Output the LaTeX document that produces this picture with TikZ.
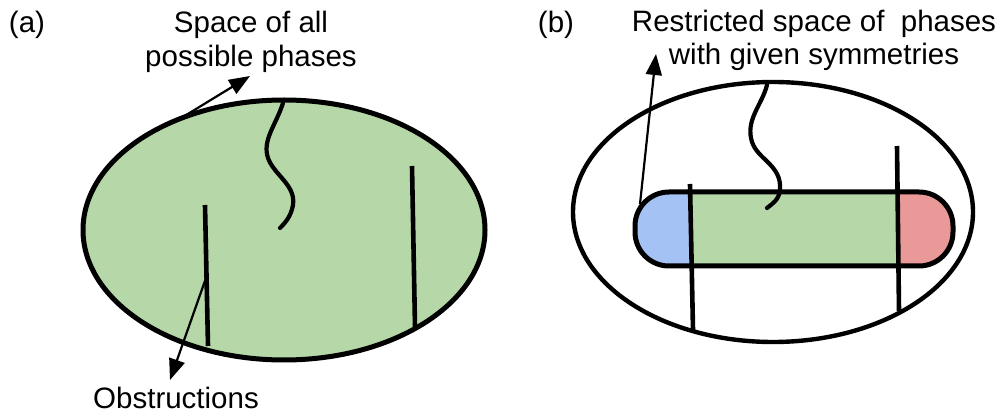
\documentclass[tikz,border=0pt]{standalone}
\usepackage{fontspec}
\setmainfont{Liberation Sans}
\usetikzlibrary{arrows.meta,shapes.geometric}
\definecolor{phasegreen}{HTML}{B6D7A8}
\definecolor{phaseblue}{HTML}{A4C2F4}
\definecolor{phasered}{HTML}{EA9999}

\begin{document}
\begin{tikzpicture}[x=1pt,y=-1pt,
  lbl/.style={font=\fontsize{29.5}{34}\selectfont, inner sep=0pt, anchor=base},
  bound/.style={draw, ellipse, inner sep=0pt, outer sep=0pt},
  obst/.style={line width=4.6pt},
  wig/.style={line width=4.2pt, line cap=round},
  pointer/.style={line width=2.2pt, -{Triangle[length=21pt,width=16pt]}}]
\useasboundingbox (0,0) rectangle (1001,419);

% ---------- (a) the full space of phases ----------
\node[bound, fill=phasegreen, line width=5pt, minimum width=402pt, minimum height=260pt]
  (spaceA) at (284,230) {};

\coordinate (oa1top) at (205,205);
\coordinate (oa1bot) at (208,346);
\coordinate (oa2top) at (412,166);
\coordinate (oa2bot) at (415,327);
\draw[obst] (oa1top) -- (oa1bot);
\draw[obst] (oa2top) -- (oa2bot);

\draw[wig] (283,103) .. controls (276,125) and (262,140) .. (268,158)
  .. controls (274,175) and (296,185) .. (293,205)
  .. controls (291,217) and (284,224) .. (280,228);

\node[lbl] (labA) at (27,33) {(a)};
\node[lbl] (spaceTxt1) at (251,33) {Space of all};
\node[lbl] (spaceTxt2) at (251,67) {possible phases};
\node[lbl] (obsTxt) at (176,408) {Obstructions};

\coordinate (tipA) at (250,76);
\draw[pointer] (spaceA.133) -- (tipA);
\coordinate (obsMark) at (206,278);
\coordinate (tipObs) at (170,380);
\draw[pointer] (obsMark) -- (tipObs);

% ---------- (b) the space restricted by symmetry ----------
\node[bound, line width=4.4pt, minimum width=400pt, minimum height=260pt]
  (spaceB) at (773,212) {};

\begin{scope}
  \clip[rounded corners=34pt] (635,192) rectangle (953,266);
  \fill[phasegreen] (635,192) rectangle (953,266);
  \fill[phaseblue] (630,185) rectangle (691,270);
  \fill[phasered] (898,185) rectangle (960,270);
\end{scope}
\node[draw, line width=5pt, rounded corners=34pt, inner sep=0pt, outer sep=0pt,
  minimum width=318pt, minimum height=74pt] (band) at (794,229) {};

\coordinate (ob1top) at (690,184);
\coordinate (ob1bot) at (693,330);
\coordinate (ob2top) at (897,146);
\coordinate (ob2bot) at (899,311);
\draw[obst] (ob1top) -- (ob1bot);
\draw[obst] (ob2top) -- (ob2bot);

\draw[wig] (767,85) .. controls (762,105) and (745,120) .. (752,142)
  .. controls (758,160) and (782,165) .. (780,190)
  .. controls (779,200) and (772,204) .. (767,208);

\node[lbl] (labB) at (556,33) {(b)};
\node[lbl] (restTxt1) at (814,32) {Restricted space of\ \ phases};
\node[lbl] (restTxt2) at (814,65) {with given symmetries};

\coordinate (bandMark) at (640,204);
\coordinate (tipB) at (656,54);
\draw[pointer] (bandMark) -- (tipB);
\end{tikzpicture}
\end{document}
